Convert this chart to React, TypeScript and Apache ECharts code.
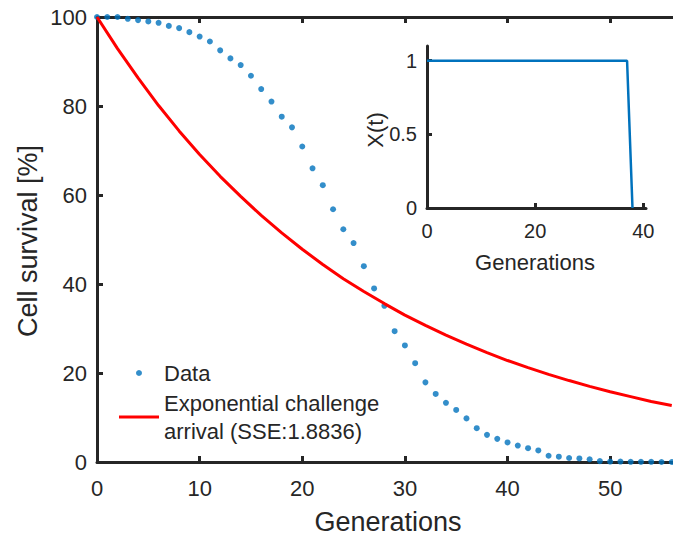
import React, { useEffect, useRef } from "react";
import * as echarts from "echarts";

// Measured survival data (generation index = position)
const generations: number[] = [
  0, 1, 2, 3, 4, 5, 6, 7, 8, 9, 10, 11, 12, 13, 14, 15, 16, 17, 18, 19, 20,
  21, 22, 23, 24, 25, 26, 27, 28, 29, 30, 31, 32, 33, 34, 35, 36, 37, 38, 39,
  40, 41, 42, 43, 44, 45, 46, 47, 48, 49, 50, 51, 52, 53, 54, 55, 56,
];
const survival: number[] = [
  100, 100, 100, 99.6, 99.3, 99.0, 98.7, 98.0, 97.5, 96.6, 95.6, 94.5, 92.5,
  90.7, 89.2, 86.8, 83.8, 81.0, 77.6, 75.2, 70.9, 66.0, 62.2, 56.8, 52.3, 49.2,
  44.0, 39.0, 35.1, 29.4, 26.2, 22.2, 17.9, 15.3, 13.3, 11.7, 9.8, 7.6, 6.1,
  5.2, 4.4, 3.7, 3.1, 2.6, 1.4, 1.2, 0.9, 0.8, 0.6, 0.2, 0.1, 0.1, 0.05, 0.05,
  0.05, 0, 0,
];

// Fitted exponential curve
const fitX: number[] = [
  0, 2, 4, 6, 8, 10, 12, 14, 16, 18, 20, 22, 24, 26, 28, 30, 32, 34, 36, 38,
  40, 42, 44, 46, 48, 50, 52, 54, 56,
];
const fitY: number[] = [
  100, 92.9, 86.3, 80.1, 74.4, 69.1, 64.2, 59.7, 55.4, 51.5, 47.8, 44.4, 41.2,
  38.3, 35.6, 33.0, 30.7, 28.5, 26.5, 24.6, 22.8, 21.2, 19.7, 18.3, 17.0, 15.8,
  14.7, 13.6, 12.7,
];

// Inset X(t)
const insetX: number[] = [0, 37, 38];
const insetY: number[] = [1, 1, 0];

const mainXTicks: number[] = [0, 10, 20, 30, 40, 50];
const mainYTicks: number[] = [0, 20, 40, 60, 80, 100];
const insetXTicks: number[] = [0, 20, 40];
const insetYTicks: number[] = [0, 0.5, 1];

const dataName = "Data";
const fitName = "Exponential challenge\narrival (SSE:1.8836)";

const FONT = "'Liberation Sans', Arial, Helvetica, sans-serif";
const INK = "#262626";
const BLUE = "#0072BD";
const RED = "#FF0000";

export default function App() {
  const ref = useRef<HTMLDivElement>(null);

  useEffect(() => {
    document.body.style.margin = "0";
    if (!ref.current) return;
    const chart = echarts.init(ref.current, undefined, { renderer: "svg" });

    const axisLine = { show: true, lineStyle: { color: INK, width: 3 } };
    const tick = (vals: number[], len = 6) => ({
      show: true,
      inside: true,
      length: len,
      customValues: vals,
      lineStyle: { color: INK, width: 3 },
    });
    const label = (vals: number[], size: number, margin: number) => ({
      show: true,
      customValues: vals,
      fontSize: size,
      color: INK,
      fontFamily: FONT,
      margin,
      formatter: (v: number) =>
        vals.some((t) => Math.abs(t - v) < 1e-9) ? String(v) : "",
    });

    const option: any = {
      animation: false,
      backgroundColor: "#ffffff",
      grid: [
        {
          left: 97,
          top: 17,
          right: -9,
          bottom: 75,
          outerBoundsMode: "none",
          containLabel: false,
        },
        {
          left: 427,
          top: 46,
          width: 219,
          height: 162,
          outerBoundsMode: "none",
          containLabel: false,
        },
      ],
      xAxis: [
        {
          type: "value",
          gridIndex: 0,
          position: "bottom",
          min: 0,
          max: 57,
          interval: 10,
          axisLine,
          axisTick: tick(mainXTicks),
          axisLabel: label(mainXTicks, 22, 15),
          splitLine: { show: false },
        },
        {
          type: "value",
          gridIndex: 0,
          position: "top",
          min: 0,
          max: 57,
          interval: 10,
          axisLine,
          axisTick: tick(mainXTicks),
          axisLabel: { show: false },
          splitLine: { show: false },
        },
        {
          type: "value",
          gridIndex: 1,
          position: "bottom",
          min: 0,
          max: 40.5,
          interval: 20,
          axisLine,
          axisTick: tick(insetXTicks, 5),
          axisLabel: label(insetXTicks, 20, 13),
          splitLine: { show: false },
        },
      ],
      yAxis: [
        {
          type: "value",
          gridIndex: 0,
          position: "left",
          min: 0,
          max: 100,
          interval: 20,
          axisLine,
          axisTick: tick(mainYTicks),
          axisLabel: label(mainYTicks, 22, 10),
          splitLine: { show: false },
        },
        {
          type: "value",
          gridIndex: 1,
          position: "left",
          min: 0,
          max: 1.1,
          interval: 0.5,
          axisLine,
          axisTick: tick(insetYTicks, 5),
          axisLabel: label(insetYTicks, 20, 10),
          splitLine: { show: false },
        },
      ],
      legend: {
        show: true,
        orient: "vertical",
        left: 119,
        top: 359,
        padding: 0,
        itemWidth: 40,
        itemHeight: 6,
        itemGap: 2,
        selectedMode: false,
        textStyle: { fontSize: 22, color: INK, fontFamily: FONT, lineHeight: 28 },
        data: [
          { name: dataName, icon: "circle", itemStyle: { color: BLUE } },
          {
            name: fitName,
            icon: "path://M0,0 L40,0 L40,3 L0,3 Z",
            itemStyle: { color: RED, borderWidth: 0 },
          },
        ],
      },
      series: [
        {
          name: dataName,
          type: "scatter",
          xAxisIndex: 0,
          yAxisIndex: 0,
          symbol: "circle",
          symbolSize: 6,
          itemStyle: { color: BLUE },
          data: generations.map((g, i) => [g, survival[i]]),
          z: 3,
        },
        {
          name: fitName,
          type: "line",
          xAxisIndex: 0,
          yAxisIndex: 0,
          showSymbol: false,
          symbol: "none",
          smooth: false,
          lineStyle: { color: RED, width: 3 },
          itemStyle: { color: RED },
          data: fitX.map((x, i) => [x, fitY[i]]),
          z: 4,
        },
        {
          name: "X(t)",
          type: "line",
          xAxisIndex: 2,
          yAxisIndex: 1,
          showSymbol: false,
          symbol: "none",
          lineStyle: { color: BLUE, width: 2.5 },
          itemStyle: { color: BLUE },
          data: insetX.map((x, i) => [x, insetY[i]]),
          z: 4,
        },
      ],
      graphic: [
        {
          type: "text",
          x: 388,
          y: 522,
          style: {
            text: "Generations",
            fontSize: 27,
            fontFamily: FONT,
            fill: INK,
            textAlign: "center",
            textVerticalAlign: "middle",
          },
        },
        {
          type: "text",
          x: 28,
          y: 241,
          rotation: Math.PI / 2,
          style: {
            text: "Cell survival [%]",
            fontSize: 27,
            fontFamily: FONT,
            fill: INK,
            textAlign: "center",
            textVerticalAlign: "middle",
          },
        },
        {
          type: "text",
          x: 535,
          y: 262,
          style: {
            text: "Generations",
            fontSize: 22,
            fontFamily: FONT,
            fill: INK,
            textAlign: "center",
            textVerticalAlign: "middle",
          },
        },
        {
          type: "text",
          x: 375,
          y: 130,
          rotation: Math.PI / 2,
          style: {
            text: "X(t)",
            fontSize: 22,
            fontFamily: FONT,
            fill: INK,
            textAlign: "center",
            textVerticalAlign: "middle",
          },
        },
      ],
    };

    chart.setOption(option);
    return () => {
      chart.dispose();
    };
  }, []);

  return <div ref={ref} style={{ width: 673, height: 537 }} />;
}
